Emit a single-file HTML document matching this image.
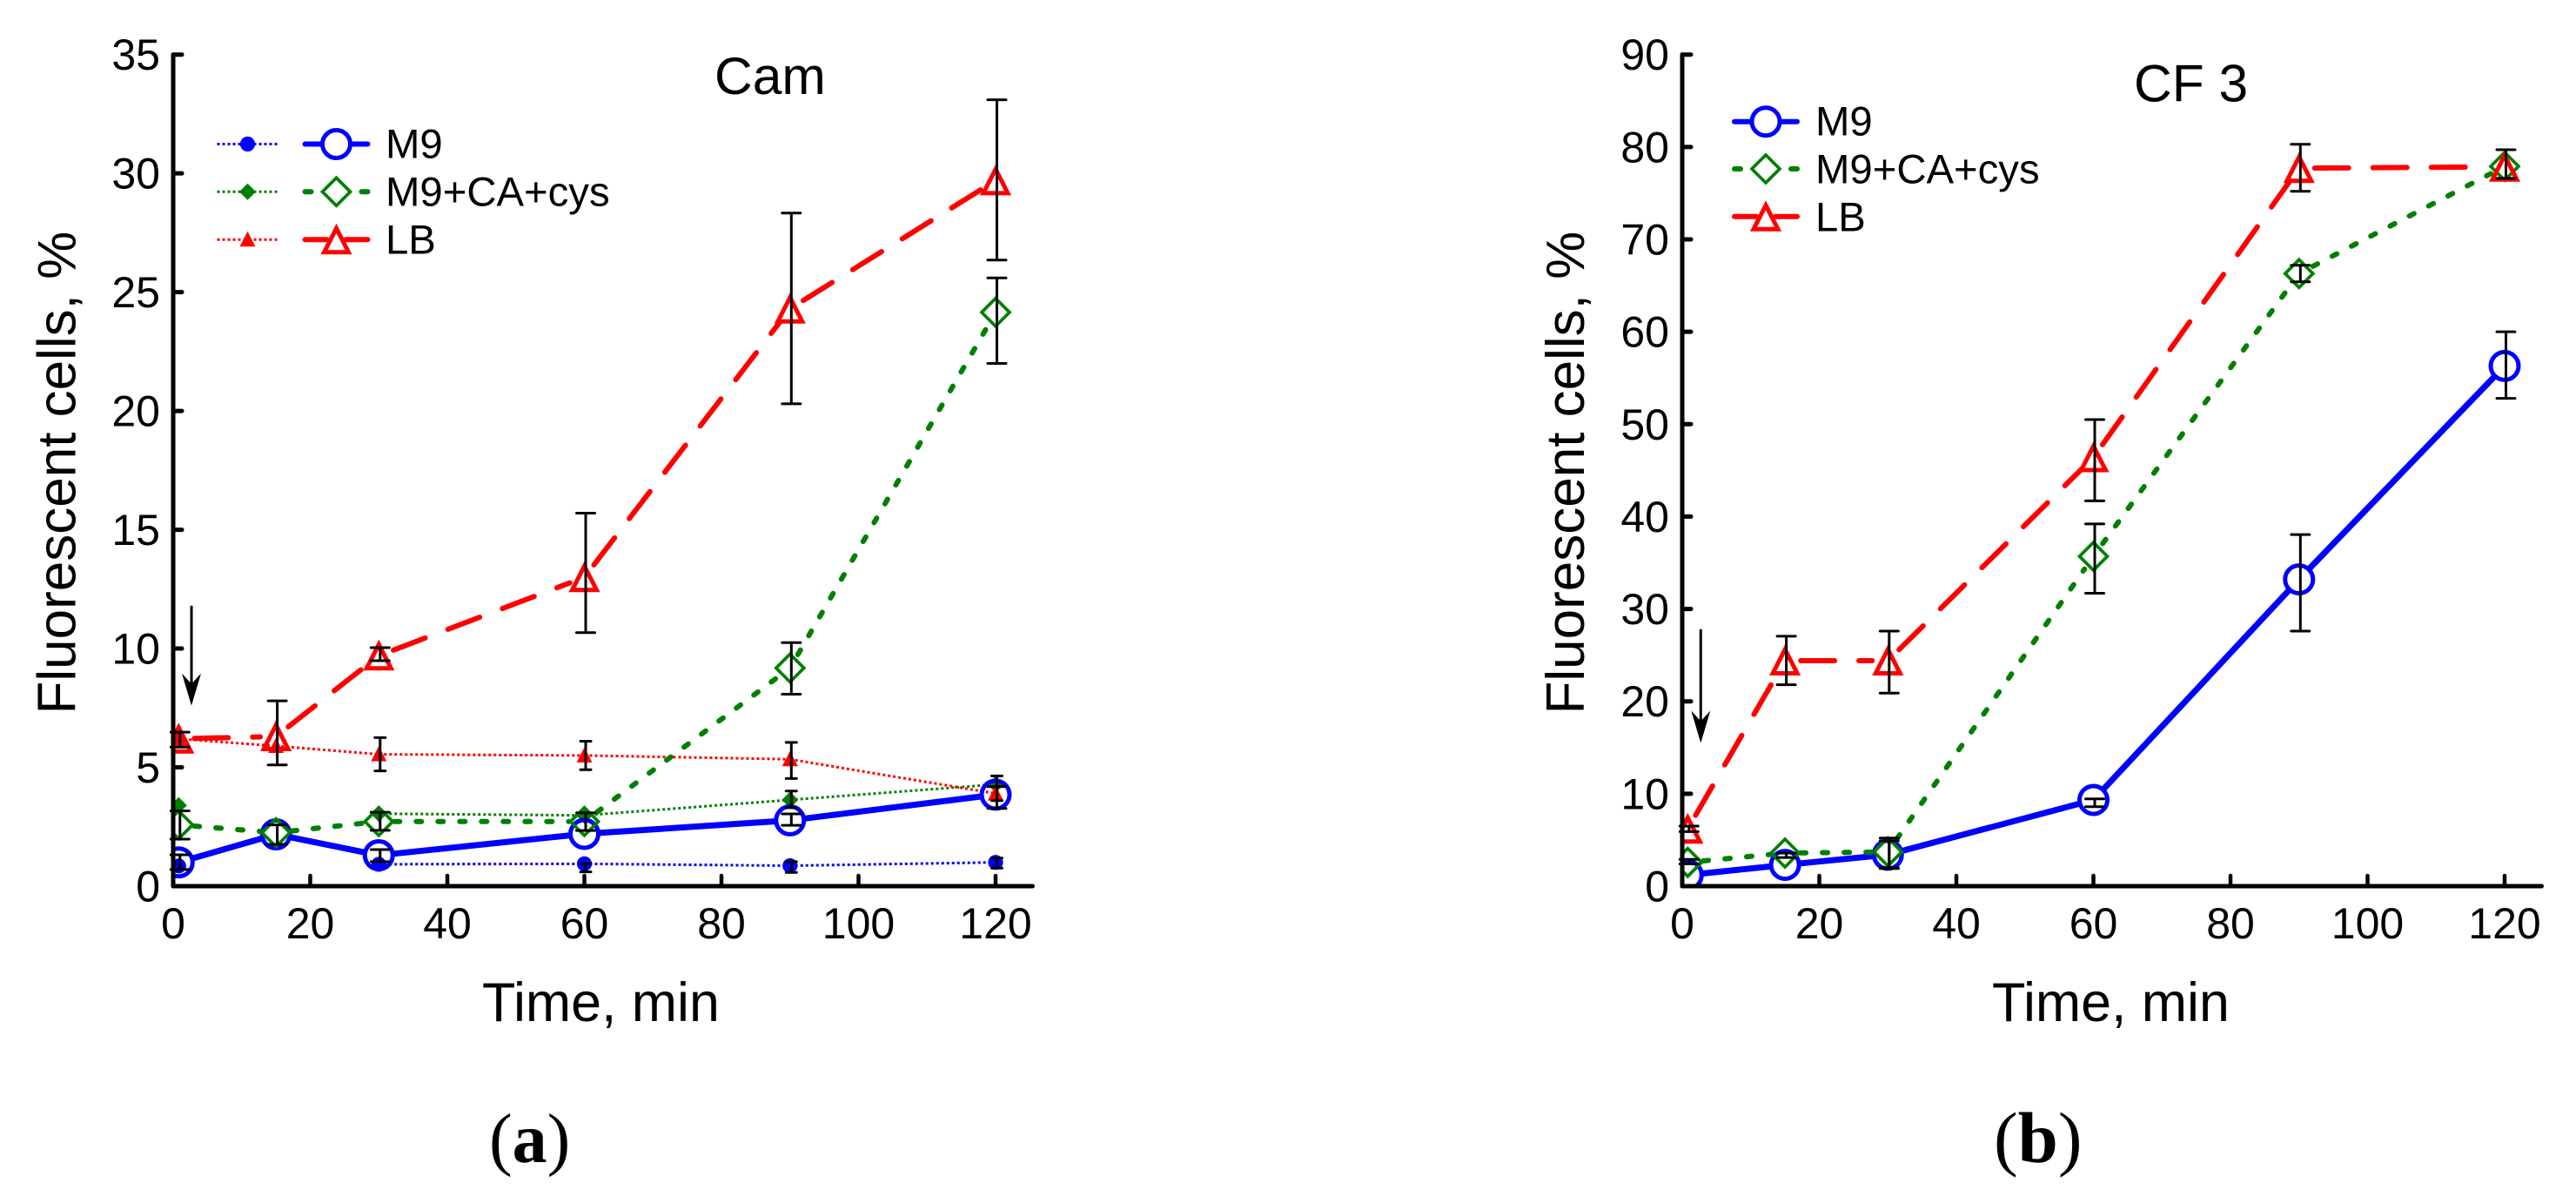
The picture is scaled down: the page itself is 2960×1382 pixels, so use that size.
<!DOCTYPE html>
<html lang="en">
<head>
<meta charset="utf-8">
<title>Fluorescent cells over time: Cam and CF 3</title>
<style>
html,body{margin:0;padding:0;background:#fff;}
svg{display:block;}
text{font-family:"Liberation Sans",Arial,sans-serif;fill:#000;}
.serif{font-family:"Liberation Serif","Times New Roman",serif;}
</style>
</head>
<body>
<svg id="fig" xmlns="http://www.w3.org/2000/svg" width="2960" height="1382" viewBox="0 0 2960 1382">
  <rect width="2960" height="1382" fill="#fff"/>
  <g id="panel-a">
    <text x="821" y="108" font-size="60.5">Cam</text>
    <text transform="translate(86.5,820.5) rotate(-90)" font-size="62">Fluorescent cells, %</text>
    <text x="554" y="1173" font-size="62.7">Time, min</text>
    <text class="serif" x="562" y="1335" font-size="80">(<tspan font-weight="bold">a</tspan>)</text>
  </g>
  <g id="panel-b">
    <text x="2452" y="116.5" font-size="60.5">CF 3</text>
    <text transform="translate(1820,820.5) rotate(-90)" font-size="62">Fluorescent cells, %</text>
    <text x="2289" y="1173" font-size="62.7">Time, min</text>
    <text class="serif" x="2291" y="1335" font-size="83">(<tspan font-weight="bold">b</tspan>)</text>
  </g>
</svg>
<script>
// ---- shared axis values ----
const times = [0.8, 15, 30, 60, 90, 120];
const xTicks = [0, 20, 40, 60, 80, 100, 120];
const yTicksCam = [0, 5, 10, 15, 20, 25, 30, 35];
const yTicksCf = [0, 10, 20, 30, 40, 50, 60, 70, 80, 90];
const seriesNames = ['M9', 'M9+CA+cys', 'LB'];

// ---- Cam panel: large markers ----
const camM9 = [1.0, 2.18, 1.3, 2.2, 2.77, 3.85];
const camM9Low = [0.7, null, 1.03, null, 2.56, 3.27];
const camM9High = [1.32, null, 1.54, null, 3.04, 4.19];
const camCA = [2.58, 2.25, 2.72, 2.72, 9.18, 24.15];
const camCALow = [1.98, 1.76, 2.35, 2.34, 8.08, 22.0];
const camCAHigh = [3.17, 2.58, 3.11, 3.09, 10.25, 25.6];
const camLB = [6.2, 6.3, 9.7, 13.0, 24.3, 29.7];
const camLBLow = [5.85, 5.1, 9.49, 10.67, 20.3, 26.35];
const camLBHigh = [6.48, 7.8, 10.04, 15.7, 28.33, 33.1];

// ---- Cam panel: small solid markers (null = not readable, hidden under large marks) ----
const camM9Small = [0.85, null, 0.92, 0.94, 0.86, 1.0];
const camM9SmallLow = [null, null, null, 0.6, 0.58, 0.76];
const camM9SmallHigh = [null, null, null, 0.95, 1.03, 1.18];
const camCASmall = [3.4, null, 3.05, 2.98, 3.63, 4.28];
const camCASmallLow = [null, null, null, null, 3.3, 4.19];
const camCASmallHigh = [null, null, null, null, 4.0, 4.64];
const camLBSmall = [6.2, 5.9, 5.55, 5.5, 5.34, 3.9];
const camLBSmallLow = [null, null, 4.85, 4.9, 4.53, 3.6];
const camLBSmallHigh = [null, null, 6.25, 6.1, 6.05, 4.2];

// ---- CF 3 panel ----
const cfM9 = [1.2, 2.3, 3.4, 9.33, 33.2, 56.3];
const cfM9Low = [null, null, 1.9, 8.6, 27.6, 52.8];
const cfM9High = [null, null, 4.9, 9.45, 38.05, 60.0];
const cfCA = [2.57, 3.58, 3.7, 35.7, 66.3, 77.9];
const cfCALow = [2.4, 3.1, 2.0, 31.7, 65.4, null];
const cfCAHigh = [2.9, 3.58, 5.2, 39.2, 67.2, null];
const cfLB = [6.2, 24.4, 24.4, 46.4, 77.7, 77.85];
const cfLBLow = [5.9, 21.8, 20.9, 41.7, 75.2, 76.6];
const cfLBHigh = [6.5, 27.05, 27.6, 50.5, 80.3, 79.7];

// ---- arrows (time, top value, tip value) ----
const camArrow = [2.67, 11.8, 7.6];
const cfArrow = [2.7, 27.8, 15.5];

const NS = 'http://www.w3.org/2000/svg';
const BLUE = '#0000ff', GREEN = '#008000', RED = '#ff0000';

function mk(parent, tag, attrs) {
  const el = document.createElementNS(NS, tag);
  for (const k in attrs) el.setAttribute(k, attrs[k]);
  parent.appendChild(el);
  return el;
}

function pts(list) {
  return list.map(function (p) { return p[0].toFixed(1) + ',' + p[1].toFixed(1); }).join(' ');
}

function drawMarker(parent, kind, cx, cy, color, solid, label) {
  let el;
  if (solid) {
    if (kind === 'circle') {
      el = mk(parent, 'ellipse', { cx: cx, cy: cy, rx: 8.6, ry: 8.6, fill: color });
    } else if (kind === 'diamond') {
      el = mk(parent, 'polygon', { points: pts([[cx, cy - 9.5], [cx + 9.5, cy], [cx, cy + 9.5], [cx - 9.5, cy]]), fill: color });
    } else {
      el = mk(parent, 'polygon', { points: pts([[cx, cy - 9.5], [cx + 9, cy + 8], [cx - 9, cy + 8]]), fill: color });
    }
  } else if (kind === 'circle') {
    el = mk(parent, 'circle', { cx: cx, cy: cy, r: 16, fill: 'none', stroke: color, 'stroke-width': 5 });
  } else if (kind === 'diamond') {
    el = mk(parent, 'polygon', { points: pts([[cx, cy - 16], [cx + 16, cy], [cx, cy + 16], [cx - 16, cy]]), fill: 'none', stroke: color, 'stroke-width': 3.7, 'stroke-miterlimit': 10 });
  } else {
    el = mk(parent, 'polygon', { points: pts([[cx, cy - 13], [cx + 14, cy + 14.5], [cx - 14, cy + 14.5]]), fill: 'none', stroke: color, 'stroke-width': 5, 'stroke-miterlimit': 10 });
  }
  
  
  return el;
}

function drawPanel(cfg) {
  const root = document.getElementById(cfg.id);
  const X = function (t) { return cfg.x0 + t * 7.875; };
  const Y = function (v) { return 1018 - v * (1018 - 62.7) / cfg.yMax; };

  // clip keeps marks inside the axes
  const defs = mk(root, 'defs', {});
  const clip = mk(defs, 'clipPath', { id: cfg.id + '-clip' });
  mk(clip, 'rect', { x: cfg.x0, y: 0, width: 1060, height: 1018 });

  // small series
  const smallGroup = mk(root, 'g', { 'clip-path': 'url(#' + cfg.id + '-clip)' });
  
  
  cfg.small.forEach(function (s) {
    for (let i = 0; i + 1 < times.length; i++) {
      if (s.values[i] === null || s.values[i + 1] === null) continue;
      const line = mk(smallGroup, 'line', {
        x1: X(times[i]), y1: Y(s.values[i]), x2: X(times[i + 1]), y2: Y(s.values[i + 1]),
        stroke: s.color, 'stroke-width': 3, 'stroke-dasharray': '3 3'
      });
      
      
    }
    times.forEach(function (t, i) {
      if (s.values[i] === null) return;
      drawMarker(smallGroup, s.kind, X(t), Y(s.values[i]), s.color, true, 'data-point-small');
    });
  });

  // large series
  const bigGroup = mk(root, 'g', { 'clip-path': 'url(#' + cfg.id + '-clip)' });
  
  
  cfg.big.forEach(function (s) {
    for (let i = 0; i + 1 < times.length; i++) {
      const x1 = X(times[i]), y1 = Y(s.values[i]), x2 = X(times[i + 1]), y2 = Y(s.values[i + 1]);
      const len = Math.hypot(x2 - x1, y2 - y1);
      const gap = 18;
      if (len <= 2 * gap) continue;
      const ux = (x2 - x1) / len, uy = (y2 - y1) / len;
      const seg = mk(bigGroup, 'line', {
        x1: (x1 + ux * gap).toFixed(1), y1: (y1 + uy * gap).toFixed(1),
        x2: (x2 - ux * gap).toFixed(1), y2: (y2 - uy * gap).toFixed(1),
        stroke: s.color, 'stroke-width': s.width, 'stroke-linecap': s.dash ? 'round' : 'butt'
      });
      if (s.dash) seg.setAttribute('stroke-dasharray', s.dash);
      
      
    }
    times.forEach(function (t, i) {
      drawMarker(bigGroup, s.kind, X(t), Y(s.values[i]), s.color, false, 'data-point');
    });
  });

  // error bars
  const errGroup = mk(root, 'g', { stroke: '#000', 'stroke-width': 3, 'stroke-linecap': 'round' });
  
  
  function errs(list, half) {
    list.forEach(function (s) {
      times.forEach(function (t, i) {
        if (s.low[i] === null || s.high[i] === null) return;
        const x = X(t) + 1.5, a = Y(s.low[i]), b = Y(s.high[i]);
        const bar = mk(errGroup, 'path', {
          d: 'M' + x.toFixed(1) + ' ' + a.toFixed(1) + 'V' + b.toFixed(1) +
             'M' + (x - half).toFixed(1) + ' ' + a.toFixed(1) + 'H' + (x + half).toFixed(1) +
             'M' + (x - half).toFixed(1) + ' ' + b.toFixed(1) + 'H' + (x + half).toFixed(1),
          fill: 'none'
        });
        
        
      });
    });
  }
  errs(cfg.small, 6);
  errs(cfg.big, 10.5);

  // axes
  const axX = mk(root, 'line', { x1: cfg.x0, y1: 1018, x2: X(125.4), y2: 1018, stroke: '#000', 'stroke-width': 5, 'stroke-linecap': 'round' });
  
  
  const axY = mk(root, 'line', { x1: cfg.x0, y1: 1018, x2: cfg.x0, y2: Y(cfg.yMax), stroke: '#000', 'stroke-width': 5, 'stroke-linecap': 'round' });
  
  

  xTicks.forEach(function (t) {
    const tick = mk(root, 'line', { x1: X(t), y1: 1018, x2: X(t), y2: 1006, stroke: '#000', 'stroke-width': 4.5, 'stroke-linecap': 'round' });
    
    
    const lab = mk(root, 'text', { x: X(t), y: 1078, 'font-size': 50, 'text-anchor': 'middle' });
    lab.textContent = String(t);
    
    
  });
  cfg.yTicks.forEach(function (v) {
    const tick = mk(root, 'line', { x1: cfg.x0, y1: Y(v), x2: cfg.x0 + 10, y2: Y(v), stroke: '#000', 'stroke-width': 5, 'stroke-linecap': 'round' });
    
    
    const lab = mk(root, 'text', { x: cfg.labelRight, y: Y(v) + 17.5, 'font-size': 50, 'text-anchor': 'end' });
    lab.textContent = String(v);
    
    
  });

  // arrow
  const ax = X(cfg.arrow[0]), top = Y(cfg.arrow[1]), tip = Y(cfg.arrow[2]);
  const shaft = mk(root, 'line', { x1: ax, y1: top, x2: ax, y2: tip - 20, stroke: '#000', 'stroke-width': 3 });
  
  
  const head = mk(root, 'polygon', { points: pts([[ax, tip], [ax - 11, tip - 37], [ax, tip - 25], [ax + 11, tip - 37]]), fill: '#000' });
  
  

  // legend
  const leg = mk(root, 'g', {});
  
  
  cfg.big.forEach(function (s, i) {
    const ly = cfg.legend.lineY[i], c = cfg.legend.bigX;
    if (cfg.legend.smallX !== null) {
      const sm = cfg.small[i], sc = cfg.legend.smallX;
      const d = mk(leg, 'line', { x1: sc - 35, y1: ly, x2: sc + 35, y2: ly, stroke: sm.color, 'stroke-width': 3, 'stroke-dasharray': '3 3' });
      
      
      drawMarker(leg, sm.kind, sc, ly, sm.color, true, 'legend-marker-small');
    }
    const stubLen = s.dash && s.kind === 'diamond' ? 7 : 26;
    const inner = s.kind === 'triangle' ? 11 : 18;
    const l1 = mk(leg, 'line', { x1: c - 36, y1: ly, x2: s.kind === 'diamond' ? c - 36 + stubLen : c - inner, y2: ly, stroke: s.color, 'stroke-width': 6, 'stroke-linecap': 'round' });
    
    
    const l2 = mk(leg, 'line', { x1: s.kind === 'diamond' ? c + 36 - stubLen : c + inner, y1: ly, x2: c + 36, y2: ly, stroke: s.color, 'stroke-width': 6, 'stroke-linecap': 'round' });
    
    
    drawMarker(leg, s.kind, c, ly, s.color, false, 'legend-marker');
    const t = mk(leg, 'text', { x: cfg.legend.textX, y: cfg.legend.textY[i], 'font-size': 47.3 });
    t.textContent = seriesNames[i];
    
    
  });
}

drawPanel({
  id: 'panel-a', x0: 199, yMax: 35, yTicks: yTicksCam, labelRight: 184, arrow: camArrow,
  small: [
    { kind: 'circle', color: BLUE, values: camM9Small, low: camM9SmallLow, high: camM9SmallHigh },
    { kind: 'diamond', color: GREEN, values: camCASmall, low: camCASmallLow, high: camCASmallHigh },
    { kind: 'triangle', color: RED, values: camLBSmall, low: camLBSmallLow, high: camLBSmallHigh }
  ],
  big: [
    { kind: 'circle', color: BLUE, width: 7, dash: null, values: camM9, low: camM9Low, high: camM9High },
    { kind: 'diamond', color: GREEN, width: 6, dash: '6 19', values: camCA, low: camCALow, high: camCAHigh },
    { kind: 'triangle', color: RED, width: 6, dash: '39 28', values: camLB, low: camLBLow, high: camLBHigh }
  ],
  legend: { smallX: 284.5, bigX: 386.5, lineY: [165.5, 220.3, 275.3], textX: 443, textY: [181.7, 236.7, 291.7] }
});

drawPanel({
  id: 'panel-b', x0: 1933, yMax: 90, yTicks: yTicksCf, labelRight: 1918, arrow: cfArrow,
  small: [],
  big: [
    { kind: 'circle', color: BLUE, width: 7, dash: null, values: cfM9, low: cfM9Low, high: cfM9High },
    { kind: 'diamond', color: GREEN, width: 6, dash: '6 19', values: cfCA, low: cfCALow, high: cfCAHigh },
    { kind: 'triangle', color: RED, width: 6, dash: '39 28', values: cfLB, low: cfLBLow, high: cfLBHigh }
  ],
  legend: { smallX: null, bigX: 2029, lineY: [139.7, 194, 248.7], textX: 2086, textY: [155.5, 210.7, 265.3] }
});
</script>
</body>
</html>
